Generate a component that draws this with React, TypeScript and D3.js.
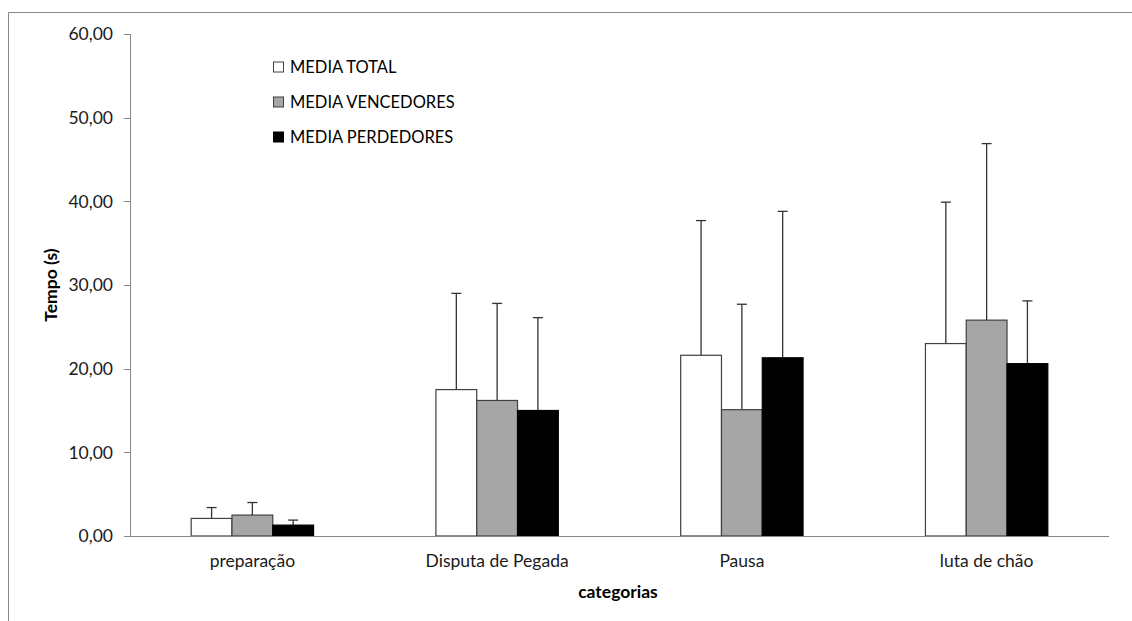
import React from "react";
import * as d3 from "d3";

const categories = ["preparação", "Disputa de Pegada", "Pausa", "luta de chão"];
const seriesNames = ["MEDIA TOTAL", "MEDIA VENCEDORES", "MEDIA PERDEDORES"];
const mediaTotal = [2.1, 17.5, 21.6, 23.0];
const mediaVencedores = [2.5, 16.2, 15.1, 25.8];
const mediaPerdedores = [1.3, 15.0, 21.3, 20.6];
const errTotal = [3.4, 29.0, 37.7, 39.9];
const errVencedores = [4.0, 27.8, 27.7, 46.9];
const errPerdedores = [1.9, 26.1, 38.8, 28.1];
const yTicks = [0, 10, 20, 30, 40, 50, 60];

const fills = ["#ffffff", "#a6a6a6", "#000000"];
const strokes = ["#404040", "#404040", "#000000"];
const FONT = "Lato, 'Open Sans', sans-serif";

export default function App() {
  const W = 1132, H = 621;
  const left = 130, right = 1109, top = 34, bottom = 536;
  const x = d3.scaleBand<string>().domain(categories).range([left, right]).paddingInner(0).paddingOuter(0);
  const y = d3.scaleLinear().domain([0, 60]).range([bottom, top]);
  const values = [mediaTotal, mediaVencedores, mediaPerdedores];
  const errs = [errTotal, errVencedores, errPerdedores];
  const groupW = x.bandwidth() * 0.5;
  const xs = d3.scaleBand<number>().domain([0, 1, 2]).range([0, groupW]);
  const fmt = (v: number) => v.toFixed(2).replace(".", ",");

  return (
    <svg width={W} height={H} style={{ position: "absolute", left: 0, top: 0, background: "#fff" }}>
      <rect x={0} y={0} width={W} height={H} fill="#fff" />
      <path d={`M8.5,${H} V12.5 H${W}`} fill="none" stroke="#868686" strokeWidth={1} />
      {/* y axis */}
      <line x1={left + 0.5} x2={left + 0.5} y1={top} y2={bottom} stroke="#868686" />
      {yTicks.map((t) => (
        <g key={t}>
          <line x1={left - 6} x2={left} y1={Math.round(y(t)) + 0.5} y2={Math.round(y(t)) + 0.5} stroke="#868686" />
          <text x={113} y={y(t)} dy="0.36em" textAnchor="end" fontFamily={FONT} fontSize={17.5} fill="#1a1a1a">
            {fmt(t)}
          </text>
        </g>
      ))}
      {/* bars */}
      {categories.map((c, ci) => {
        const gx = (x(c) as number) + (x.bandwidth() - groupW) / 2;
        return (
          <g key={c}>
            {values.map((vals, si) => {
              const bx = gx + (xs(si) as number);
              const bw = xs.bandwidth();
              const cx = bx + bw / 2;
              return (
                <g key={si}>
                  <line x1={cx} x2={cx} y1={y(vals[ci])} y2={y(errs[si][ci])} stroke="#333" strokeWidth={1.3} />
                  <line x1={cx - 5} x2={cx + 5} y1={y(errs[si][ci])} y2={y(errs[si][ci])} stroke="#333" strokeWidth={1.3} />
                  <rect x={bx} y={y(vals[ci])} width={bw} height={bottom - y(vals[ci])} fill={fills[si]} stroke={strokes[si]} strokeWidth={1.2} />
                </g>
              );
            })}
          </g>
        );
      })}
      {/* x axis */}
      <line x1={left} x2={right} y1={bottom + 0.5} y2={bottom + 0.5} stroke="#868686" />
      {categories.map((c) => (
        <text key={c} x={(x(c) as number) + x.bandwidth() / 2} y={567} textAnchor="middle" fontFamily={FONT} fontSize={17.5} fill="#1a1a1a">
          {c}
        </text>
      ))}
      <text x={618} y={598} textAnchor="middle" fontFamily={FONT} fontSize={17.5} fontWeight="bold" fill="#000">
        categorias
      </text>
      <text transform="translate(57,285) rotate(-90)" textAnchor="middle" fontFamily={FONT} fontSize={17.5} fontWeight="bold" fill="#000">
        Tempo (s)
      </text>
      {/* legend */}
      {seriesNames.map((n, i) => (
        <g key={n} transform={`translate(273,${67 + i * 35})`}>
          <rect x={0.5} y={-5} width={10} height={10} fill={fills[i]} stroke={strokes[i]} />
          <text x={17} y={0} dy="0.36em" fontFamily={FONT} fontSize={16.5} fill="#000">
            {n}
          </text>
        </g>
      ))}
    </svg>
  );
}
